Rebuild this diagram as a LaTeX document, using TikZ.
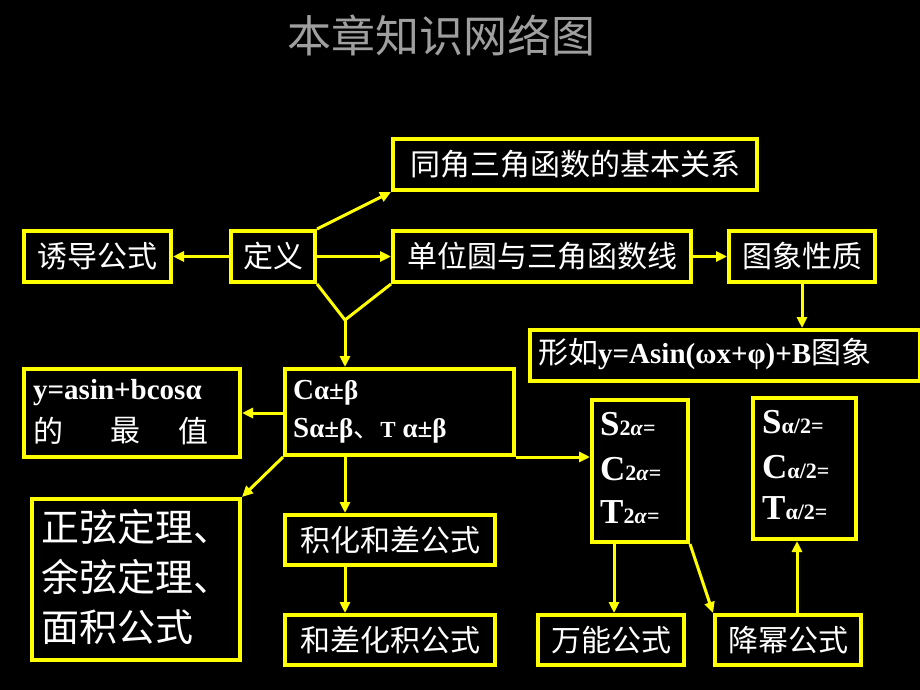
\documentclass[tikz,border=0pt]{standalone}
\usepackage{fontspec}
\setmainfont{Liberation Serif}
\newfontfamily\cjk{Noto Sans CJK SC}
\usetikzlibrary{arrows.meta,calc}
\definecolor{yel}{HTML}{FFFF00}
\begin{document}
\begin{tikzpicture}[x=1pt,y=-1pt,
  box/.style={draw=yel, line width=4pt, anchor=north west, inner sep=0pt, text=white, font=\cjk\fontsize{30}{36}\selectfont},
  arr/.style={draw=yel, line width=3pt, -{Triangle[length=11pt,width=10pt]}},
  conn/.style={draw=yel, line width=3pt},
  lbl/.style={text=white, anchor=west, inner sep=0pt},
  fml/.style={lbl, font=\bfseries\fontsize{27}{32}\selectfont},
  cj/.style={lbl, font=\cjk\fontsize{30}{36}\selectfont},
  big/.style={font=\bfseries\fontsize{35}{40}\selectfont},
  sub/.style={font=\bfseries\fontsize{22}{26}\selectfont}
]
\fill[black] (0,0) rectangle (920,690);
\useasboundingbox (0,0) rectangle (920,690);

\node[text=gray!75, font=\cjk\fontsize{44}{50}\selectfont] (title) at (441,35) {本章知识网络图};

\node[box, minimum width=364, minimum height=51] (tongjiao) at (391,137) {同角三角函数的基本关系};
\node[box, minimum width=147, minimum height=51] (youdao) at (22,229) {诱导公式};
\node[box, minimum width=84, minimum height=51] (dingyi) at (229,229) {定义};
\node[box, minimum width=298, minimum height=51] (danwei) at (391,229) {单位圆与三角函数线};
\node[box, minimum width=146, minimum height=51] (tuxiang) at (727,229) {图象性质};
\node[box, minimum width=390, minimum height=51] (xingru) at (528,328) {};
\node[cj] (xingrut) at (538,354) {形如{\rmfamily\bfseries\fontsize{29}{34}\selectfont y=Asin(ωx+φ)+B}图象};

\node[box, minimum width=216, minimum height=88] (yasin) at (22,367) {};
\node[fml, font=\bfseries\fontsize{29}{34}\selectfont] (yasin1) at (33,393) {y=asin+bcosα};
\node[cj] (de) at (33,431) {的};
\node[cj] (zui) at (110,431) {最};
\node[cj] (zhi) at (178,431) {值};

\node[box, minimum width=229, minimum height=86] (cab) at (283,367) {};
\node[fml] (cab1) at (293,393) {{\fontsize{29}{34}\selectfont C}α±β};
\node[fml] (cab2) at (293,431) {{\fontsize{29}{34}\selectfont S}α±β{\mdseries\cjk 、}{\fontsize{23}{28}\selectfont T} α±β};

\node[box, minimum width=208, minimum height=161] (bigbox) at (30,497) {};
\node[lbl, align=left, font=\cjk\fontsize{38}{50}\selectfont] (bigt) at (41,577) {正弦定理、\\余弦定理、\\面积公式};

\node[box, minimum width=210, minimum height=50] (jihua) at (283,513) {积化和差公式};
\node[box, minimum width=210, minimum height=50] (hecha) at (283,613) {和差化积公式};

\node[box, minimum width=96, minimum height=142] (s2) at (590,398) {};
\node[lbl] (s2a) at (600,424) {\textbf{\fontsize{35}{40}\selectfont S}{\bfseries\fontsize{22}{26}\selectfont 2\textit{α}=}};
\node[lbl] (s2b) at (600,469) {\textbf{\fontsize{35}{40}\selectfont C}{\bfseries\fontsize{22}{26}\selectfont 2\textit{α}=}};
\node[lbl] (s2c) at (600,512) {\textbf{\fontsize{35}{40}\selectfont T}{\bfseries\fontsize{22}{26}\selectfont 2\textit{α}=}};

\node[box, minimum width=103, minimum height=141] (sh) at (751,396) {};
\node[lbl] (sha) at (762,422) {\textbf{\fontsize{35}{40}\selectfont S}{\bfseries\fontsize{22}{26}\selectfont α/2=}};
\node[lbl] (shb) at (762,467) {\textbf{\fontsize{35}{40}\selectfont C}{\bfseries\fontsize{22}{26}\selectfont α/2=}};
\node[lbl] (shc) at (762,508) {\textbf{\fontsize{35}{40}\selectfont T}{\bfseries\fontsize{22}{26}\selectfont α/2=}};

\node[box, minimum width=146, minimum height=50] (wanneng) at (536,613) {万能公式};
\node[box, minimum width=146, minimum height=50] (jiangmi) at (713,613) {降幂公式};

% connectors
\coordinate (vpt) at (345,320);
\coordinate (wx) at (614,0);
\coordinate (jx) at (797,0);
\draw[arr] (dingyi.west) -- (youdao.east);
\draw[arr] (dingyi.east) -- (danwei.west);
\draw[arr] (dingyi.north east) -- (tongjiao.south west);
\draw[arr] (danwei.east) -- (tuxiang.west);
\draw[arr] (tuxiang.south) -- (tuxiang.south |- xingru.north);
\draw[conn, line join=miter] (dingyi.south east) -- (vpt) -- (danwei.south west);
\draw[arr] (vpt) -- (vpt |- cab.north);
\draw[arr] (cab.west |- yasin.east) -- (yasin.east);
\draw[arr] (cab.south west) -- (bigbox.north east);
\draw[arr] (vpt |- cab.south) -- (vpt |- jihua.north);
\draw[arr] (vpt |- jihua.south) -- (vpt |- hecha.north);
\draw[arr] (cab.south east) -- (s2.west |- cab.south east);
\draw[arr] (wx |- s2.south) -- (wx |- wanneng.north);
\draw[arr] (s2.south east) -- (jiangmi.north west);
\draw[arr] (jx |- jiangmi.north) -- (jx |- sh.south);
\end{tikzpicture}
\end{document}
